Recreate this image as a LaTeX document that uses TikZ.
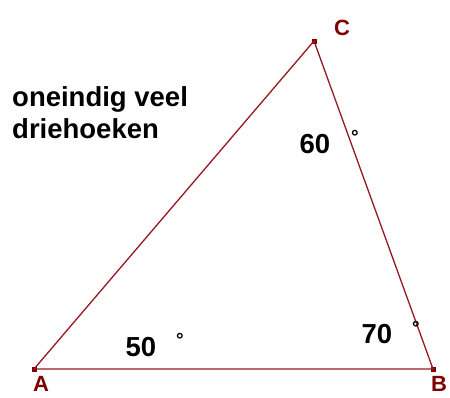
\documentclass[tikz,border=0pt]{standalone}
\usepackage{fontspec}
\setmainfont{Liberation Sans}
\definecolor{edgered}{RGB}{150,25,35}
\definecolor{labred}{RGB}{128,0,0}
\begin{document}
\begin{tikzpicture}[x=1pt,y=-1pt,
  edge/.style={draw=edgered,line width=1.3pt},
  vdot/.style={fill=labred,inner sep=0pt,minimum size=5pt,rectangle},
  vlab/.style={text=labred,font=\fontsize{22}{24}\selectfont\bfseries,inner sep=0pt,anchor=base},
  txt/.style={font=\fontsize{27.5}{31}\selectfont\bfseries,inner sep=0pt,anchor=base west},
  num/.style={font=\fontsize{27.5}{31}\selectfont\bfseries,inner sep=0pt,anchor=base},
  deg/.style={font=\fontsize{19}{20}\selectfont\bfseries,inner sep=0pt,anchor=north}]
\useasboundingbox[fill=white] (0,0) rectangle (450,397);
\node[vdot] (A) at (34,369) {};
\node[vdot] (B) at (433,369) {};
\node[vdot] (C) at (314,41) {};
\draw[edge] (A.center) -- (B.center) -- (C.center) -- cycle;
\node[vlab] (lA) at (41,391) {A};
\node[vlab] (lB) at (439,391) {B};
\node[vlab] (lC) at (342,35) {C};
\node[txt] (t1) at (12,106) {oneindig veel};
\node[txt] (t2) at (12,138) {driehoeken};
\node[num] (n60) at (315,153) {60};
\node[deg] (d60) at (355,130) {°};
\node[num] (n50) at (141,356) {50};
\node[deg] (d50) at (180,333) {°};
\node[num] (n70) at (377,343) {70};
\node[deg] (d70) at (416,321) {°};
\end{tikzpicture}
\end{document}
